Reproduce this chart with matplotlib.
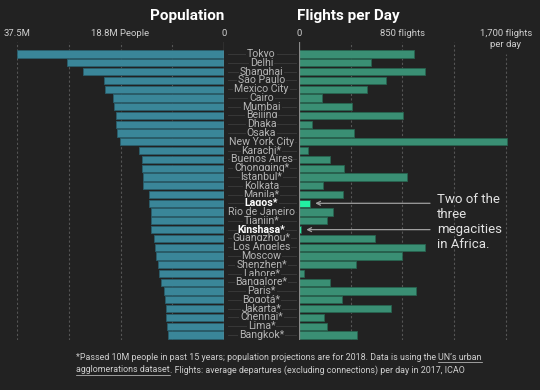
import matplotlib
matplotlib.use("Agg")
import matplotlib.pyplot as plt
from matplotlib.transforms import blended_transform_factory

# data
cities = ["Tokyo", "Delhi", "Shanghai", "São Paulo", "Mexico City", "Cairo", "Mumbai",
          "Beijing", "Dhaka", "Osaka", "New York City", "Karachi*", "Buenos Aires",
          "Chongqing*", "Istanbul*", "Kolkata", "Manila*", "Lagos*", "Rio de Janeiro",
          "Tianjin*", "Kinshasa*", "Guangzhou*", "Los Angeles", "Moscow", "Shenzhen*",
          "Lahore*", "Bangalore*", "Paris*", "Bogotá*", "Jakarta*", "Chennai*", "Lima*",
          "Bangkok*"]
population = [37.5, 28.5, 25.6, 21.7, 21.6, 20.1, 20.0, 19.6, 19.6, 19.3, 18.8, 15.4,
              14.9, 14.8, 14.7, 14.6, 13.5, 13.5, 13.3, 13.2, 13.2, 12.6, 12.5, 12.4,
              11.9, 11.7, 11.4, 10.9, 10.6, 10.5, 10.5, 10.4, 10.2]
flights = [946, 589, 1033, 713, 557, 192, 433, 858, 110, 455, 1711, 71, 252, 373, 888,
           197, 359, 88, 280, 230, 14, 627, 1039, 850, 469, 41, 252, 962, 356, 754, 203,
           230, 477]
highlight = ["Lagos*", "Kinshasa*"]

pop_ticks = [37.5, 18.75, 0]
pop_ticklabels = ["37.5M", "18.8M People", "0"]
pop_grid = [37.5, 28.125, 18.75, 9.375]
fl_ticks = [0, 850, 1700]
fl_ticklabels = ["0", "850 flights", "1,700 flights\nper day"]
fl_grid = [425, 850, 1275, 1700]

BG = "#222222"
TEAL = "#3a8699"
GREEN = "#3a8f74"
BRIGHT = "#22f0a2"
GRID = "#555555"
TXT = "#cfcfcf"

plt.rcParams["font.family"] = ["Roboto", "DejaVu Sans"]

W, H = 540, 390
fig = plt.figure(figsize=(W / 100, H / 100), dpi=100, facecolor=BG)

top_px, bot_px = 42, 340
yb = 1 - bot_px / H
yh = (bot_px - top_px) / H
ylim = (32.57, -1.37)

axL = fig.add_axes([17 / W, yb, (224 - 17) / W, yh])
axR = fig.add_axes([299 / W, yb, (520 - 299) / W, yh])
fl_max = (520 - 299) / 0.1216

rows = list(range(len(cities)))

for ax in (axL, axR):
    ax.set_facecolor("none")
    for s in ax.spines.values():
        s.set_visible(False)
    ax.set_xticks([])
    ax.set_yticks([])
    ax.set_ylim(*ylim)

axL.set_xlim(37.5, 0)
axR.set_xlim(0, fl_max)

# grid lines
for g in pop_grid:
    axL.axvline(g, color=GRID, lw=0.8, ls=(0, (2, 2)), zorder=0)
axL.axvline(0, color="#8a8a8a", lw=0.9, zorder=3)
for g in fl_grid:
    # the last line starts under its two-line label
    top = 1 - (54 - top_px) / (bot_px - top_px) if g == 1700 else 1
    axR.axvline(g, ymin=0, ymax=top, color=GRID, lw=0.8, ls=(0, (2, 2)), zorder=0)
axR.axvline(0, color="#8a8a8a", lw=0.9, zorder=3)

# bars
pop_colors = [TEAL for c in cities]
fl_colors = [BRIGHT if c in highlight else GREEN for c in cities]
axL.barh(rows, population, height=0.82, color=pop_colors, edgecolor="#2a5e6c",
         linewidth=0.6, zorder=2)
axR.barh(rows, flights, height=0.82, color=fl_colors, edgecolor="#27634f",
         linewidth=0.6, zorder=2)

# tick labels on top
tL = blended_transform_factory(axL.transData, fig.transFigure)
tR = blended_transform_factory(axR.transData, fig.transFigure)
for v, lab in zip(pop_ticks, pop_ticklabels):
    axL.text(v, 1 - 34 / H, lab, transform=tL, ha="center", va="center",
             fontsize=6.8, color=TXT, clip_on=False)
for v, lab in zip(fl_ticks, fl_ticklabels):
    axR.text(v, 1 - 29.5 / H, lab, transform=tR, ha="center", va="top",
             fontsize=6.8, color=TXT, clip_on=False, linespacing=1.15)

# titles
fig.text(224 / W, 1 - 16 / H, "Population", ha="right", va="center",
         fontsize=11, fontweight="bold", color="white")
fig.text(297 / W, 1 - 16 / H, "Flights per Day", ha="left", va="center",
         fontsize=11, fontweight="bold", color="white")

# city labels with faint leader lines
tC = blended_transform_factory(fig.transFigure, axL.transData)
for i, c in enumerate(cities):
    axL.plot([228 / W, 296 / W], [i, i], transform=tC, color="#3c3c3c", lw=0.6,
             clip_on=False, zorder=1)
    bold = c in highlight
    axL.text(261.5 / W, i, c, transform=tC, ha="center", va="center",
             fontsize=7.6, color="white" if bold else "#b5b5b5",
             fontweight="bold" if bold else "normal", clip_on=False, zorder=4,
             bbox=dict(fc=BG, ec="none", pad=0.6))

# annotation
tA = blended_transform_factory(fig.transFigure, axR.transData)
for c in highlight:
    i = cities.index(c)
    axR.annotate("", xy=(flights[i], i), xycoords="data",
                 xytext=(430 / W, i), textcoords=tA,
                 arrowprops=dict(arrowstyle="->", color="#a0a0a0", lw=0.9,
                                 shrinkA=0, shrinkB=4, mutation_scale=7))
fig.text(437 / W, 1 - 193 / H, "Two of the\nthree\nmegacities\nin Africa.",
         ha="left", va="top", fontsize=9.5, color="#e2e2e2", linespacing=1.2)

# footnote with underlined link text
fig.canvas.draw()
r = fig.canvas.get_renderer()
fs = 6.4


def piece(x, y, s, underline=False):
    t = fig.text(x / W, 1 - y / H, s, ha="left", va="center", fontsize=fs, color=TXT)
    bb = t.get_window_extent(renderer=r)
    if underline:
        fig.add_artist(plt.Line2D([bb.x0 / W, bb.x1 / W],
                                  [(bb.y0 - 0.5) / H, (bb.y0 - 0.5) / H],
                                  color=TXT, lw=0.5))
    return bb.x1


x = piece(76, 357, "*Passed 10M people in past 15 years; population projections are for 2018. Data is using the ")
piece(x, 357, "UN’s urban", underline=True)
x = piece(76, 370, "agglomerations dataset", underline=True)
piece(x, 370, ". Flights: average departures (excluding connections) per day in 2017, ICAO")

fig.savefig("out.png", dpi=100, facecolor=BG)
